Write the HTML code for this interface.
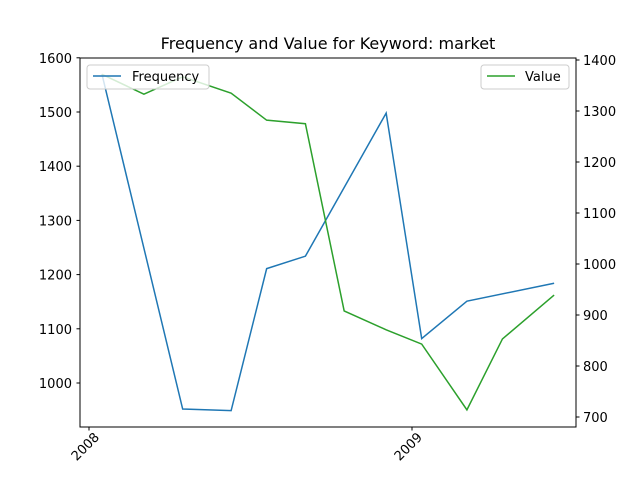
<!DOCTYPE html>
<html><head><meta charset="utf-8"><style>
body{margin:0;background:#fff;font-family:"Liberation Sans","DejaVu Sans",sans-serif;}
svg text{font-family:"DejaVu Sans","Liberation Sans",sans-serif;}
</style></head><body>
<svg id="chart" width="640" height="480" xmlns="http://www.w3.org/2000/svg">
<rect width="640" height="480" fill="#fff"/>
<text x="328" y="49" font-size="16" text-anchor="middle">Frequency and Value for Keyword: market</text>
<g id="plot"></g>
<rect x="80" y="58" width="496" height="369" fill="none" stroke="#000" stroke-width="1"/>
<g>
<rect x="87" y="65" width="122" height="24" rx="3" fill="#fff" fill-opacity="0.8" stroke="#ccc"/>
<line x1="93" y1="76" x2="121" y2="76" stroke="#1f77b4" stroke-width="1.5"/>
<text x="132" y="81" font-size="13">Frequency</text></g>
<g>
<rect x="481" y="65" width="88" height="24" rx="3" fill="#fff" fill-opacity="0.8" stroke="#ccc"/>
<line x1="487" y1="76" x2="515" y2="76" stroke="#2ca02c" stroke-width="1.5"/>
<text x="525" y="81" font-size="13">Value</text></g>
</svg>
<script>
const freqDates=[2008.04,2008.29,2008.44,2008.55,2008.67,2008.92,2009.03,2009.17,2009.44];
const freqValues=[1570,952,949,1211,1234,1498,1082,1151,1184];
const valDates=[2008.04,2008.17,2008.29,2008.44,2008.55,2008.67,2008.79,2008.92,2009.03,2009.17,2009.28,2009.44];
const valValues=[1372,1333,1367,1335,1282,1275,908,871,843,714,853,939];
const leftTicks=[1000,1100,1200,1300,1400,1500,1600];
const rightTicks=[700,800,900,1000,1100,1200,1300,1400];
const xTicks=[2008,2009];
const NS="http://www.w3.org/2000/svg";
const g=document.getElementById('plot');
const X=v=>89+(v-2008)*323;
const YL=v=>383-(v-1000)*0.542;
const YR=v=>417-(v-700)*0.51;
function el(t,a){const e=document.createElementNS(NS,t);for(const k in a)e.setAttribute(k,a[k]);g.appendChild(e);return e;}
leftTicks.forEach(t=>{const y=YL(t);
const l=el('line',{x1:76.5,x2:80,y1:y,y2:y,stroke:'#000'});


const s=el('text',{x:72,y:y+5,'font-size':13,'text-anchor':'end'});s.textContent=t;

});
rightTicks.forEach(t=>{const y=YR(t);
const l=el('line',{x1:576,x2:579.5,y1:y,y2:y,stroke:'#000'});


const s=el('text',{x:583,y:y+5,'font-size':13});s.textContent=t;

});
xTicks.forEach(t=>{const x=X(t);
const l=el('line',{x1:x,x2:x,y1:427,y2:430.5,stroke:'#000'});


const s=el('text',{x:x+11,y:438,'font-size':13,'text-anchor':'end',transform:`rotate(-45 ${x+11} 438)`});s.textContent=t;

});
const p1=el('polyline',{points:freqDates.map((d,i)=>X(d)+','+YL(freqValues[i])).join(' '),fill:'none',stroke:'#1f77b4','stroke-width':1.5});


const p2=el('polyline',{points:valDates.map((d,i)=>X(d)+','+YR(valValues[i])).join(' '),fill:'none',stroke:'#2ca02c','stroke-width':1.5});


</script>
</body></html>
